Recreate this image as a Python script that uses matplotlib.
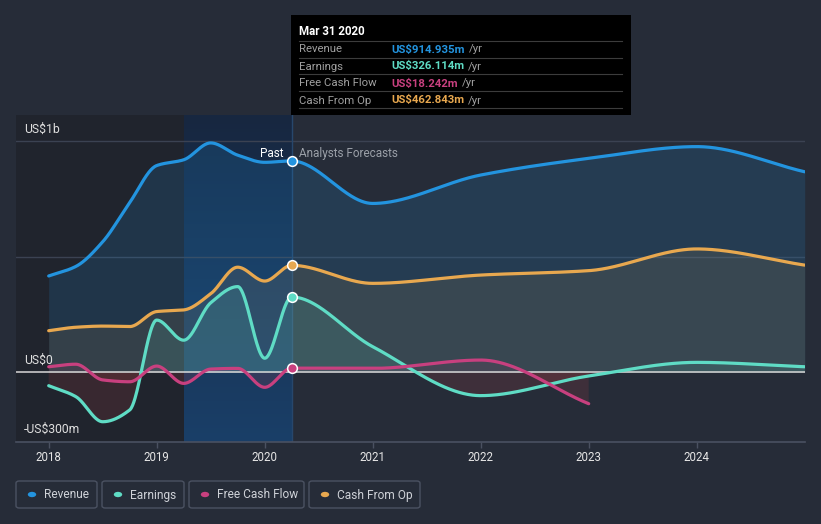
import numpy as np
import matplotlib
matplotlib.use("Agg")
import matplotlib.pyplot as plt
from matplotlib.patches import Rectangle, FancyBboxPatch, Circle
from matplotlib.colors import LinearSegmentedColormap

# ---------------- data (US$ millions) ----------------
past_x = [2018.0, 2018.25, 2018.5, 2018.75, 2019.0, 2019.25, 2019.5, 2019.75, 2020.0, 2020.25]
fc_x = [2020.25, 2021.0, 2022.0, 2023.0, 2024.0, 2025.0]
fcf_fc_x = [2020.25, 2021.0, 2022.0, 2023.0]

revenue_past = [417, 458, 565, 735, 895, 920, 993, 940, 909, 915]
revenue_fc = [915, 731, 854, 926, 977, 868]
earnings_past = [-58, -105, -214, -163, 226, 139, 301, 371, 61, 326]
earnings_fc = [326, 111, -101, -16, 43, 24]
fcf_past = [24, 35, -33, -41, 27, -48, 14, 17, -65, 18]
fcf_fc = [18, 17, 53, -136]
cfo_past = [180, 195, 200, 198, 263, 270, 340, 455, 395, 463]
cfo_fc = [463, 385, 421, 440, 534, 464]

year_ticks = [2018, 2019, 2020, 2021, 2022, 2023, 2024]
y_labels = [(1000, "US$1b"), (0, "US$0"), (-300, "-US$300m")]
tooltip_title = "Mar 31 2020"
tooltip_rows = [("Revenue", "US$914.935m", "#2394df"),
                ("Earnings", "US$326.114m", "#5fdcc5"),
                ("Free Cash Flow", "US$18.242m", "#c8407f"),
                ("Cash From Op", "US$462.843m", "#e8a84f")]

C_REV = "#2394df"
C_EARN = "#5fdcc5"
C_FCF = "#c8407f"
C_CFO = "#e8a84f"
BG = "#262c38"

W, H = 821, 524


def pchip(x, y, xs):
    x = np.asarray(x, float)
    y = np.asarray(y, float)
    h = np.diff(x)
    d = np.diff(y) / h
    n = len(x)
    m = np.zeros(n)
    m[0] = d[0]
    m[-1] = d[-1]
    for k in range(1, n - 1):
        if d[k - 1] * d[k] <= 0:
            m[k] = 0.0
        else:
            w1 = 2 * h[k] + h[k - 1]
            w2 = h[k] + 2 * h[k - 1]
            m[k] = (w1 + w2) / (w1 / d[k - 1] + w2 / d[k])
    idx = np.clip(np.searchsorted(x, xs) - 1, 0, n - 2)
    t = (xs - x[idx]) / h[idx]
    h00 = 2 * t**3 - 3 * t**2 + 1
    h10 = t**3 - 2 * t**2 + t
    h01 = -2 * t**3 + 3 * t**2
    h11 = t**3 - t**2
    return h00 * y[idx] + h10 * h[idx] * m[idx] + h01 * y[idx + 1] + h11 * h[idx] * m[idx + 1]


def curve(px, pv, fx, fv):
    x = list(px) + list(fx[1:])
    v = list(pv) + list(fv[1:])
    xs = np.linspace(x[0], x[-1], 1200)
    return xs, pchip(x, v, xs)


fig = plt.figure(figsize=(W / 100, H / 100), dpi=100)
fig.patch.set_facecolor(BG)

def fx(p):
    return p / W

def fy(p):
    return 1 - p / H

PXM = 0.231  # pixels per US$ million
ax_left, ax_right, ax_top, ax_bot = 16, 805, 115, 441.6
ax = fig.add_axes([fx(ax_left), fy(ax_bot), (ax_right - ax_left) / W, (ax_bot - ax_top) / H])
ax.set_facecolor(BG)
x0 = 2018 - (48.7 - ax_left) / 108.0
x1 = 2018 + (ax_right - 48.7) / 108.0
ymin = -300
ymax = (372.3 - ax_top) / PXM
ax.set_xlim(x0, x1)
ax.set_ylim(ymin, ymax)

# background regions
ax.axvspan(x0, 2019.25, color="#20242d", zorder=0, lw=0)
grad = np.linspace(1, 0, 256).reshape(-1, 1)
cmap = LinearSegmentedColormap.from_list("hl", ["#172740", "#1a3f68"])
ax.imshow(grad, extent=[2019.25, 2020.25, ymin, ymax], aspect="auto", cmap=cmap,
          origin="lower", zorder=0.5, interpolation="bicubic")
ax.set_xlim(x0, x1)
ax.set_ylim(ymin, ymax)

# grid lines
for g in [1000, 500]:
    ax.axhline(g, color="#3b4252", lw=1, zorder=1)
ax.axvline(2020.25, color="#27476c", lw=1, zorder=1)

series = [
    (revenue_past, revenue_fc, past_x, fc_x, C_REV, 0.16),
    (cfo_past, cfo_fc, past_x, fc_x, C_CFO, 0.10),
    (earnings_past, earnings_fc, past_x, fc_x, C_EARN, 0.12),
    (fcf_past, fcf_fc, past_x, fcf_fc_x, C_FCF, 0.10),
]

curves = []
for pv, fv, px_, fx_, col, a in series:
    xs, ys = curve(px_, pv, fx_, fv)
    curves.append((xs, ys, col))
    ax.fill_between(xs, ys, 0, where=ys >= 0, color=col, alpha=a, lw=0, zorder=2, interpolate=True)
    ax.fill_between(xs, ys, 0, where=ys < 0, color="#e04848", alpha=0.13, lw=0, zorder=2, interpolate=True)

ax.axhline(0, color="#d8d8d8", lw=1.1, zorder=3)

for xs, ys, col in curves:
    ax.plot(xs, ys, color=col, lw=2.3, zorder=4, solid_capstyle="round")

# markers at Mar 31 2020
for v, col in [(revenue_past[-1], C_REV), (cfo_past[-1], C_CFO), (earnings_past[-1], C_EARN), (fcf_past[-1], C_FCF)]:
    ax.plot([past_x[-1]], [v], "o", ms=7, mfc=col, mec="white", mew=1.1, zorder=5)

# axes styling
for s in ["top", "right", "left"]:
    ax.spines[s].set_visible(False)
ax.spines["bottom"].set_color("#4a5161")
ax.spines["bottom"].set_linewidth(1.2)
ax.set_yticks([])
ax.set_xticks(year_ticks)
ax.set_xticklabels([str(t) for t in year_ticks])
ax.tick_params(axis="x", colors="#4a5161", length=4, width=1, pad=3)
for lab in ax.get_xticklabels():
    lab.set_color("#e6e6e6")
    lab.set_fontsize(8.3)
    lab.set_family("Roboto")

# y labels
for v, t in y_labels:
    ax.text(x0 + (24 - ax_left) / 108.0, v + 8.4 / PXM, t, color="#e0e0e0", fontsize=8.7,
            family="Roboto", ha="left", va="baseline", zorder=6)

base_past = (372.3 - 157) / PXM
ax.text(2020.25 - 8 / 108.0, base_past, "Past", color="white", fontsize=8.5, family="Roboto",
        ha="right", va="baseline", zorder=6)
ax.text(2020.25 + 7 / 108.0, base_past, "Analysts Forecasts", color="#9ba0a8", fontsize=8.5,
        family="Roboto", ha="left", va="baseline", zorder=6)

# tooltip
fig.add_artist(Rectangle((fx(291), fy(115)), (631 - 291) / W, 100 / H, transform=fig.transFigure,
                         facecolor="black", edgecolor="none", zorder=10))
fig.text(fx(299), fy(35.3), tooltip_title, color="white", fontsize=8.3, fontweight="bold",
         family="Roboto", va="baseline", ha="left", zorder=11)
sep_y = [40.7, 57.7, 74.3, 91.3, 108.3]
for sy in sep_y:
    fig.add_artist(plt.Line2D([fx(299), fx(622)], [fy(sy), fy(sy)], color="#3c3c3c",
                              lw=0.8, transform=fig.transFigure, zorder=11))
fig.canvas.draw()
renderer = fig.canvas.get_renderer()
for i, (name, val, col) in enumerate(tooltip_rows):
    base = 52.5 + i * 17
    fig.text(fx(299), fy(base), name, color="#a0a0a0", fontsize=8.2, family="Roboto", va="baseline",
             ha="left", zorder=11)
    t = fig.text(fx(391), fy(base), val, color=col, fontsize=8.2, fontweight="bold", family="Roboto",
                 va="baseline", ha="left", zorder=11)
    bb = t.get_window_extent(renderer)
    fig.text((bb.x1 + 4) / W, fy(base), "/yr", color="#a0a0a0", fontsize=8.2, family="Roboto",
             va="baseline", ha="left", zorder=11)

# legend
legend_items = [("Revenue", C_REV, 16, 97), ("Earnings", C_EARN, 102, 184),
                ("Free Cash Flow", C_FCF, 189, 304), ("Cash From Op", C_CFO, 309, 420)]
for name, col, lx0, lx1 in legend_items:
    fig.add_artist(FancyBboxPatch((fx(lx0), fy(508)), (lx1 - lx0) / W, 27 / H,
                                  boxstyle="round,pad=0,rounding_size=0.004",
                                  transform=fig.transFigure, facecolor="none",
                                  edgecolor="#4b5262", lw=1, zorder=10))
    fig.add_artist(Circle((fx(lx0 + 16), fy(494.5)), 4.2 / W, transform=fig.transFigure,
                          facecolor=col, edgecolor="none", zorder=11))
    fig.text(fx(lx0 + 28), fy(498.5), name, color="#cfd2d8", fontsize=8.6, family="Roboto",
             va="baseline", ha="left", zorder=11)

fig.savefig("out.png", dpi=100, facecolor=BG)
